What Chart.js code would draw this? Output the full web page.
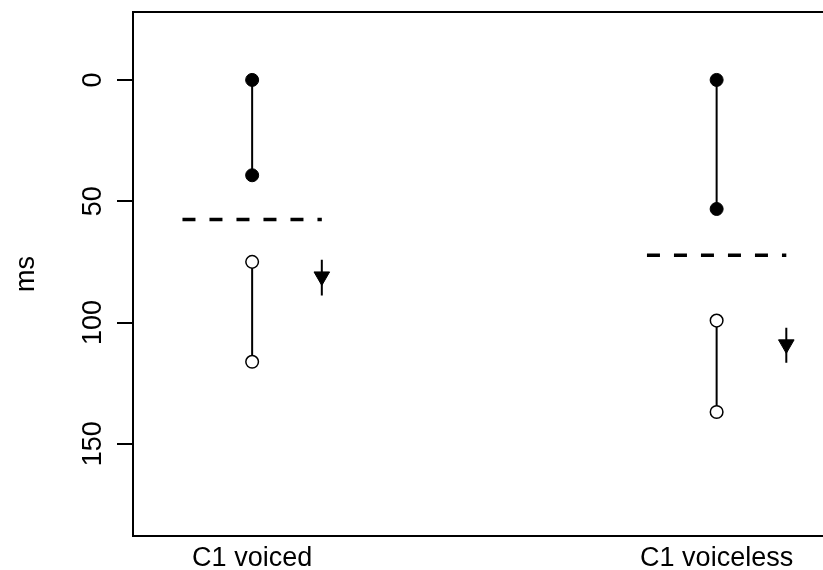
<!DOCTYPE html>
<html>
<head>
<meta charset="utf-8">
<script src="https://cdn.jsdelivr.net/npm/chart.js@4/dist/chart.umd.min.js"></script>
<style>
  html, body { margin: 0; padding: 0; background: #fff; overflow: hidden; }
  canvas { display: block; }
</style>
</head>
<body>
<canvas id="chart" width="823" height="570"></canvas>
<script>
// values (ms, y axis runs downwards)
var categories = ['C1 voiced', 'C1 voiceless'];
var catX = [1, 2];
var closedStart = [0, 0];
var closedEnd = [39.3, 53.2];
var openStart = [75.0, 99.2];
var openEnd = [116.2, 136.9];
var dashedLevel = [57.5, 72.3];
var arrowMid = [81, 109];
var arrowLow = [74.1, 102.2];
var arrowHigh = [88.9, 116.6];
var yTicks = [0, 50, 100, 150];
// the dashed line spans cat +/- halfWidth, the arrow sits at its right end
var halfWidth = 0.15;

var FONT = '"Liberation Sans", Arial, Helvetica, sans-serif';

function pairs(xs, a, b) {
  return xs.map(function(x, i) { return [{x: x, y: a[i]}, {x: x, y: b[i]}]; });
}

var datasets = [];

pairs(catX, closedStart, closedEnd).forEach(function(d) {
  datasets.push({
    data: d, showLine: true, borderColor: '#000', borderWidth: 2,
    pointRadius: 6.5, pointBackgroundColor: '#000', pointBorderColor: '#000', pointBorderWidth: 1
  });
});

pairs(catX, openStart, openEnd).forEach(function(d) {
  datasets.push({
    data: d, showLine: true, borderColor: '#000', borderWidth: 2,
    pointRadius: 6.3, pointBackgroundColor: '#fff', pointBorderColor: '#000', pointBorderWidth: 1.5
  });
});

catX.forEach(function(x, i) {
  datasets.push({
    data: [{x: x - halfWidth, y: dashedLevel[i]}, {x: x + halfWidth, y: dashedLevel[i]}],
    showLine: true, borderColor: '#000', borderWidth: 3.5, borderDash: [13, 14],
    borderCapStyle: 'butt', pointRadius: 0
  });
  datasets.push({
    data: [{x: x + halfWidth, y: arrowLow[i]}, {x: x + halfWidth, y: arrowHigh[i]}],
    showLine: true, borderColor: '#000', borderWidth: 2, pointRadius: 0
  });
  datasets.push({
    data: [{x: x + halfWidth, y: arrowMid[i]}],
    showLine: false, pointStyle: 'triangle', rotation: 180, pointRadius: 9,
    pointBackgroundColor: '#000', pointBorderColor: '#000', pointBorderWidth: 1
  });
});

// y tick labels are drawn turned, like R's default axis
var rotatedYLabels = {
  id: 'rotatedYLabels',
  afterDraw: function(chart) {
    var scale = chart.scales.y;
    var ctx = chart.ctx;
    ctx.save();
    ctx.fillStyle = '#000';
    ctx.font = '27px ' + FONT;
    ctx.textAlign = 'center';
    ctx.textBaseline = 'alphabetic';
    scale.ticks.forEach(function(t) {
      ctx.save();
      ctx.translate(100.5, scale.getPixelForValue(t.value));
      ctx.rotate(-Math.PI / 2);
      ctx.fillText(String(t.value), 0, 0);
      ctx.restore();
    });
    ctx.restore();
  }
};

function noSidePadding(axis, h) {
  axis.height = h;
  axis.paddingLeft = 0;
  axis.paddingRight = 0;
}

var chart = new Chart(document.getElementById('chart').getContext('2d'), {
  type: 'scatter',
  data: { datasets: datasets },
  plugins: [rotatedYLabels],
  options: {
    responsive: false,
    animation: false,
    layout: { autoPadding: false, padding: { left: 0, top: 12, right: 0, bottom: 0 } },
    plugins: { legend: { display: false }, tooltip: { enabled: false } },
    scales: {
      x: {
        type: 'linear', position: 'bottom', min: 0.7435, max: 2.229,
        afterBuildTicks: function(axis) {
          axis.ticks = catX.map(function(v) { return {value: v}; });
        },
        afterFit: function(axis) { noSidePadding(axis, 34); },
        grid: { display: false, drawTicks: false },
        border: { display: true, color: '#000', width: 2 },
        ticks: {
          color: '#000', padding: 6, maxRotation: 0, autoSkip: false,
          font: { family: FONT, size: 27 },
          callback: function(v) { return categories[catX.indexOf(v)]; }
        }
      },
      xTop: {
        type: 'linear', position: 'top', min: 0.7435, max: 2.229,
        afterFit: function(axis) { noSidePadding(axis, 0); },
        grid: { display: false, drawTicks: false },
        border: { display: true, color: '#000', width: 2 },
        ticks: { display: false }
      },
      y: {
        type: 'linear', reverse: true, min: -28, max: 188,
        afterBuildTicks: function(axis) {
          axis.ticks = yTicks.map(function(v) { return {value: v}; });
        },
        afterFit: function(axis) { axis.width = 133; },
        grid: { display: true, drawOnChartArea: false, drawTicks: true, tickLength: 16, color: '#000', lineWidth: 2 },
        border: { display: true, color: '#000', width: 2 },
        ticks: { display: false },
        title: {
          display: true, text: 'ms', color: '#000',
          font: { family: FONT, size: 27 },
          padding: { top: 10, bottom: 0 }
        }
      }
    }
  }
});
</script>
</body>
</html>
